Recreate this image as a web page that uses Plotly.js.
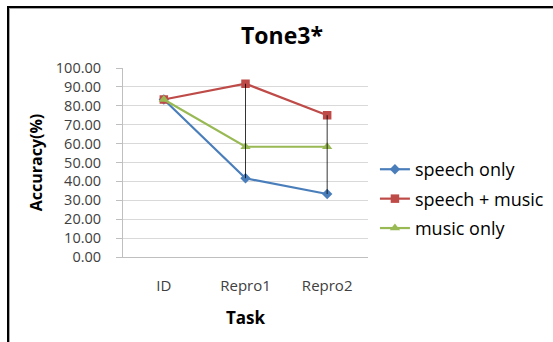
<!DOCTYPE html>
<html><head><meta charset="utf-8">
<script src="https://cdn.plot.ly/plotly-3.0.1.min.js"></script>
<style>
html,body{margin:0;padding:0;background:#fff;overflow:hidden;}
#chart{width:553px;height:342px;}
#frame{position:absolute;left:7px;top:6px;width:560px;height:350px;border-left:2px solid #000;border-top:2px solid #000;pointer-events:none;}
#frame2{position:absolute;left:9px;top:8px;width:560px;height:350px;border-left:1px solid #a6a6a6;border-top:1px solid #a6a6a6;pointer-events:none;}
</style></head>
<body>
<div id="chart"></div>
<div id="frame"></div><div id="frame2"></div>
<script>
const tasks = ["ID", "Repro1", "Repro2"];
const speechOnly = [83.33, 41.67, 33.33];
const speechMusic = [83.33, 91.67, 75.00];
const musicOnly = [83.33, 58.33, 58.33];
const yTicks = [0,10,20,30,40,50,60,70,80,90,100];

// high-low lines at Repro1 and Repro2
const hlX = [], hlY = [];
for (let i = 1; i < tasks.length; i++) {
  const vals = [speechOnly[i], speechMusic[i], musicOnly[i]];
  hlX.push(tasks[i], tasks[i], null);
  hlY.push(Math.max(...vals), Math.min(...vals), null);
}

const font = "'Open Sans', sans-serif";
const traces = [
  {x: tasks, y: speechOnly, name: 'speech only', mode: 'lines+markers', legendgroup: 'a',
   line: {color: '#4a7ebb', width: 2.2}, marker: {symbol: 'diamond', size: 8, color: '#4a7ebb'}},
  {x: tasks, y: speechMusic, name: 'speech + music', mode: 'lines+markers', legendgroup: 'b',
   line: {color: '#be4b48', width: 2.2}, marker: {symbol: 'square', size: 8.5, color: '#be4b48'}},
  {x: tasks, y: musicOnly, name: 'music only', mode: 'lines+markers', legendgroup: 'c',
   line: {color: '#98b954', width: 2.2}, marker: {symbol: 'triangle-up', size: 9, color: '#98b954'}},
  {x: hlX, y: hlY, mode: 'lines', line: {color: '#000', width: 0.8}, showlegend: false, hoverinfo: 'skip'}
];

const layout = {
  width: 553, height: 342,
  margin: {l: 123, r: 185, t: 68, b: 85, pad: 0},
  paper_bgcolor: '#fff', plot_bgcolor: '#fff',
  font: {family: font, color: '#404040'},
  title: {text: '<b>Tone3*</b>', font: {size: 23, color: '#000', family: font},
          xref: 'container', x: 0.51, xanchor: 'center', y: 0.895, yanchor: 'middle', yref: 'container'},
  xaxis: {type: 'category', categoryorder: 'array', categoryarray: tasks, range: [-0.5, 2.5],
          showgrid: false, zeroline: false,
          showline: true, linecolor: '#bfbfbf', linewidth: 1, ticks: '', ticklabelstandoff: 15,
          tickfont: {size: 15, color: '#404040', family: font},
          title: {text: '<b>Task</b>', font: {size: 17, color: '#000', family: font}, standoff: 18}},
  yaxis: {range: [0, 100], tickvals: yTicks, ticktext: yTicks.map(v => v.toFixed(2)),
          showgrid: true, gridcolor: '#d9d9d9', gridwidth: 1, zeroline: false,
          showline: true, linecolor: '#bfbfbf', linewidth: 1,
          ticks: 'outside', ticklen: 6, tickcolor: '#bfbfbf', ticklabelstandoff: 12,
          tickfont: {size: 14.5, color: '#404040', family: font},
          title: {text: '<b>Accuracy(%)</b>', font: {size: 16, color: '#000', family: font}, standoff: 9}},
  legend: {xref: 'container', yref: 'container', x: 0.678, xanchor: 'left', y: 0.418, yanchor: 'middle',
           tracegroupgap: 3,
           font: {size: 18, color: '#000', family: font}, itemwidth: 30, bgcolor: 'rgba(0,0,0,0)'},
  showlegend: true
};

Plotly.newPlot('chart', traces, layout, {displayModeBar: false, staticPlot: true});
</script>
</body></html>
